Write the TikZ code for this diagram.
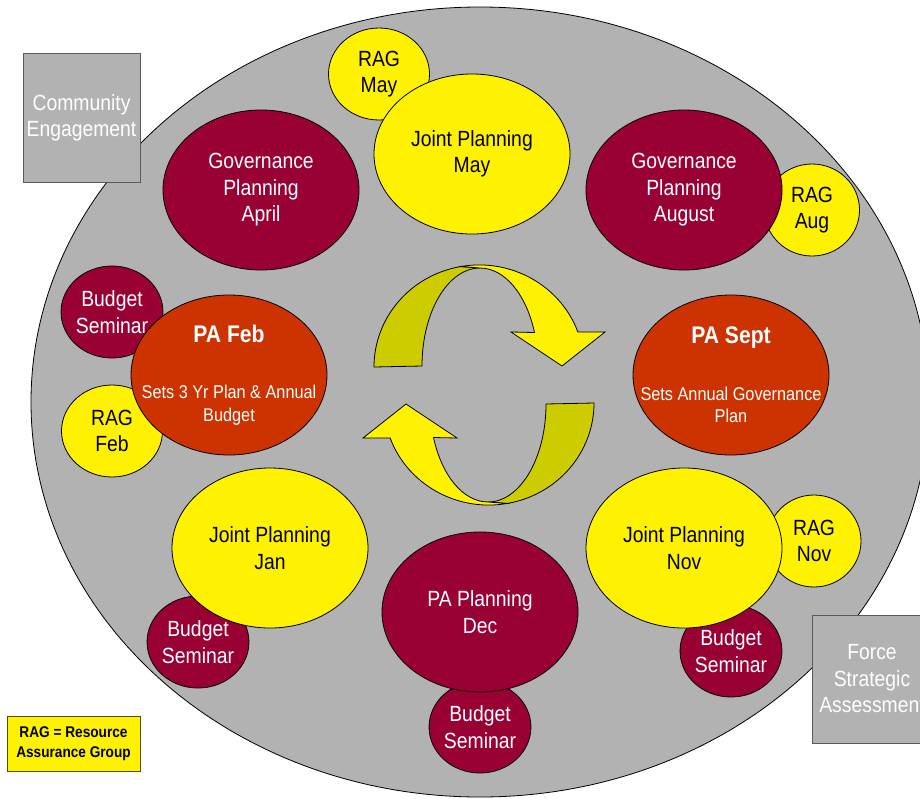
\documentclass[tikz,border=0pt]{standalone}
\usepackage{fontspec}
\setmainfont{Liberation Sans}[FakeStretch=0.88]
\usetikzlibrary{shapes.geometric}
\definecolor{bggray}{RGB}{178,178,178}
\definecolor{plum}{RGB}{153,0,51}
\definecolor{paorange}{RGB}{204,51,0}
\definecolor{arrowback}{RGB}{204,204,0}
\definecolor{boxline}{RGB}{90,90,90}
\definecolor{keyline}{RGB}{80,80,0}

\begin{document}
\begin{tikzpicture}
[x=1pt,y=1pt,line width=0.8pt,font=\fontsize{22}{26.5}\selectfont,
big/.style={ellipse,draw,minimum width=196pt,minimum height=160pt,inner sep=0pt,align=center},
small/.style={ellipse,draw,minimum width=101pt,minimum height=92pt,inner sep=0pt,align=center},
plan/.style={fill=plum,text=white},
joint/.style={fill=yellow},
pa/.style={big,fill=paorange,text=white,font=\fontsize{18.5}{22.5}\selectfont},
box/.style={draw=boxline,fill=bggray,text=white,align=center}]
\useasboundingbox (0,0) rectangle (920,-798);
\draw[fill=bggray] (480,-402) ellipse [x radius=449,y radius=395];

\node[small,joint] (ragmay) at (379,-74) {RAG\\May};
\node[small,joint,minimum width=95pt] (ragaug) at (812,-210) {RAG\\Aug};
\node[small,plan] (budfeb) at (112,-312) {Budget\\Seminar};
\node[small,joint] (ragfeb) at (112,-431) {RAG\\Feb};
\node[small,joint,minimum width=94pt] (ragnov) at (814,-541) {RAG\\Nov};
\node[small,plan] (budnov) at (731,-651) {Budget\\Seminar};
\node[small,plan] (budjan) at (198,-642) {Budget\\Seminar};
\node[small,plan] (buddec) at (480,-727) {Budget\\Seminar};

\node[big,joint] (jpmay) at (472,-154) {Joint Planning\\May};
\node[big,plan] (govapr) at (261,-190) {Governance\\Planning\\April};
\node[big,plan] (govaug) at (684,-190) {Governance\\Planning\\August};
\node[pa] (pafeb) at (229,-375) {{\fontsize{24}{28}\selectfont\bfseries PA Feb}\\[34pt]\makebox[100pt]{Sets 3 Yr Plan \& Annual}\\Budget};
\node[pa] (pasept) at (731,-375) {{\fontsize{24}{28}\selectfont\bfseries PA Sept}\\[34pt]\makebox[100pt]{Sets Annual Governance}\\Plan};
\node[big,joint] (jpjan) at (270,-548) {Joint Planning\\Jan};
\node[big,joint] (jpnov) at (684,-548) {Joint Planning\\Nov};
\node[big,plan] (padec) at (480,-612) {PA Planning\\Dec};

\foreach \r in {0,180}{
\begin{scope}[rotate around={\r:(484,-385)}]
\draw[fill=arrowback] (374,-367) arc[start angle=180,end angle=100,x radius=105,y radius=102]
  -- (480,-268) arc[start angle=90,end angle=180,x radius=58,y radius=98] -- cycle;
\draw[fill=yellow] (461,-266.5) arc[start angle=100,end angle=20,x radius=105,y radius=102]
  -- ++(27,0) -- (562,-366) -- (511,-332) -- (534.5,-332.5)
  arc[start angle=20,end angle=90,x radius=58,y radius=98] -- cycle;
\end{scope}
}

\node[box,minimum width=117pt,minimum height=129pt] (community) at (81.5,-118) {Community\\Engagement};
\node[box,minimum width=120pt,minimum height=128pt] (force) at (872,-679) {Force\\Strategic\\Assessment};
\node[draw=keyline,fill=yellow,minimum width=133pt,minimum height=55pt,align=center,
  font=\fontsize{15.5}{19.5}\selectfont\bfseries] (key) at (73.5,-743.5) {RAG = Resource\\Assurance Group};
\end{tikzpicture}
\end{document}
